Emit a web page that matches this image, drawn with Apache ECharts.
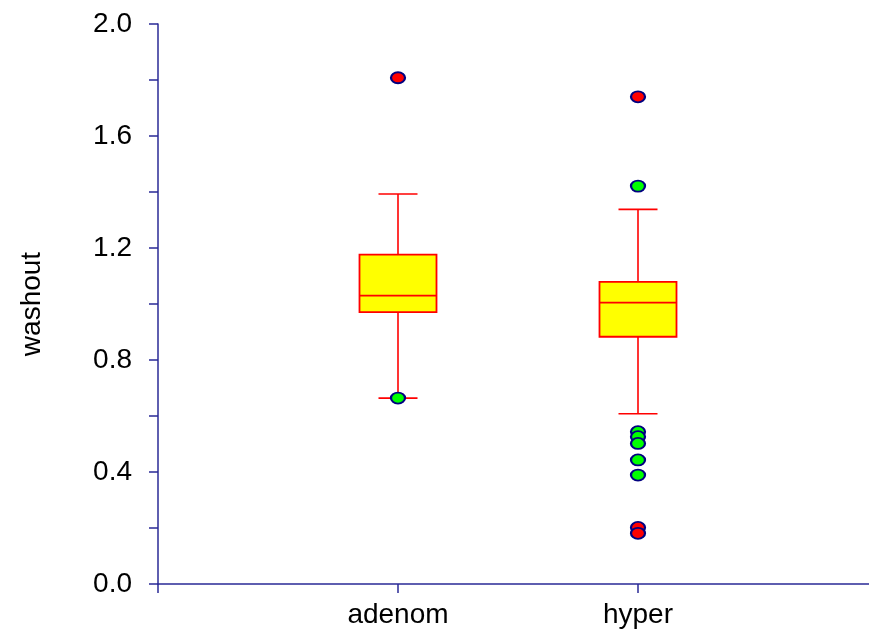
<!DOCTYPE html>
<html>
<head>
<meta charset="utf-8">
<script src="https://cdn.jsdelivr.net/npm/echarts@6/dist/echarts.min.js"></script>
<style>
  html, body { margin: 0; padding: 0; background: #ffffff; }
  #chart { width: 869px; height: 630px; }
</style>
</head>
<body>
<div id="chart"></div>
<script>
// Groups along the horizontal axis (placed at positions 1, 2, ...)
const categories = ['adenom', 'hyper'];

// Five-number summaries per group
const whiskerLow  = [0.664, 0.608];
const q1          = [0.971, 0.883];
const median      = [1.030, 1.005];
const q3          = [1.176, 1.079];
const whiskerHigh = [1.393, 1.338];

// Outliers: near (green) and far (red), per group
const nearOutliers = [
  [0.664],
  [1.421, 0.544, 0.526, 0.502, 0.443, 0.389]
];
const farOutliers = [
  [1.808],
  [1.740, 0.202, 0.181]
];

// Value-axis tick labels
const yTicks = ['0.0', '0.4', '0.8', '1.2', '1.6', '2.0'];

const axisColor = '#2a2a96';
const fontFamily = 'Liberation Sans, Arial, sans-serif';
const fontSize = 28;

const boxData = categories.map((c, i) => [i + 1, whiskerLow[i], q1[i], median[i], q3[i], whiskerHigh[i]]);

function pointsFrom(groups) {
  const out = [];
  groups.forEach((vals, i) => vals.forEach(v => out.push([i + 1, v])));
  return out;
}

const BOX_HALF = 38.5;
const CAP_HALF = 19.5;

function renderBox(params, api) {
  const x = api.value(0);
  const pLow = api.coord([x, api.value(1)]);
  const pQ1 = api.coord([x, api.value(2)]);
  const pMed = api.coord([x, api.value(3)]);
  const pQ3 = api.coord([x, api.value(4)]);
  const pHigh = api.coord([x, api.value(5)]);
  const cx = pLow[0];
  const lineStyle = { stroke: '#ff0000', lineWidth: 1.6, fill: null };
  return {
    type: 'group',
    children: [
      { type: 'line', shape: { x1: cx, y1: pQ3[1], x2: cx, y2: pHigh[1] }, style: lineStyle },
      { type: 'line', shape: { x1: cx, y1: pQ1[1], x2: cx, y2: pLow[1] }, style: lineStyle },
      { type: 'line', shape: { x1: cx - CAP_HALF, y1: pHigh[1], x2: cx + CAP_HALF, y2: pHigh[1] }, style: lineStyle },
      { type: 'line', shape: { x1: cx - CAP_HALF, y1: pLow[1], x2: cx + CAP_HALF, y2: pLow[1] }, style: lineStyle },
      { type: 'rect', shape: { x: cx - BOX_HALF, y: pQ3[1], width: BOX_HALF * 2, height: pQ1[1] - pQ3[1] },
        style: { fill: '#ffff00', stroke: '#ff0000', lineWidth: 1.8 } },
      { type: 'line', shape: { x1: cx - BOX_HALF, y1: pMed[1], x2: cx + BOX_HALF, y2: pMed[1] }, style: lineStyle }
    ]
  };
}

const chart = echarts.init(document.getElementById('chart'), null, { renderer: 'canvas' });

chart.setOption({
  animation: false,
  backgroundColor: '#ffffff',
  grid: { left: 158, top: 24, width: 720, height: 560, containLabel: false, outerBoundsMode: 'none' },
  xAxis: {
    type: 'value',
    min: 0,
    max: 3,
    interval: 1,
    axisLine: { show: true, onZero: false, lineStyle: { color: axisColor, width: 1.5 } },
    axisTick: { show: true, inside: false, length: 9, lineStyle: { color: axisColor, width: 1.5 } },
    splitLine: { show: false },
    axisLabel: {
      margin: 17,
      color: '#000000',
      fontFamily: fontFamily,
      fontSize: fontSize,
      formatter: v => categories[Math.round(v) - 1] || ''
    }
  },
  yAxis: {
    type: 'value',
    min: 0,
    max: 2,
    interval: 0.2,
    name: 'washout',
    nameLocation: 'middle',
    nameGap: 112,
    nameRotate: 90,
    nameTextStyle: { color: '#000000', fontFamily: fontFamily, fontSize: fontSize },
    axisLine: { show: true, onZero: false, lineStyle: { color: axisColor, width: 1.5 } },
    axisTick: { show: true, inside: false, length: 9, lineStyle: { color: axisColor, width: 1.5 } },
    splitLine: { show: false },
    axisLabel: {
      margin: 26,
      color: '#000000',
      fontFamily: fontFamily,
      fontSize: fontSize,
      formatter: v => {
        const k = Math.round(v / 0.2);
        return k % 2 === 0 ? yTicks[k / 2] : '';
      }
    }
  },
  series: [
    {
      type: 'custom',
      renderItem: renderBox,
      data: boxData,
      encode: { x: 0, y: [1, 2, 3, 4, 5] },
      z: 2
    },
    {
      type: 'scatter',
      data: pointsFrom(nearOutliers),
      symbol: 'circle',
      symbolSize: [14, 11],
      itemStyle: { color: '#00ff00', borderColor: '#000080', borderWidth: 2, opacity: 1 },
      z: 3
    },
    {
      type: 'scatter',
      data: pointsFrom(farOutliers),
      symbol: 'circle',
      symbolSize: [14, 11],
      itemStyle: { color: '#ff0000', borderColor: '#000080', borderWidth: 2, opacity: 1 },
      z: 3
    }
  ]
});
</script>
</body>
</html>
